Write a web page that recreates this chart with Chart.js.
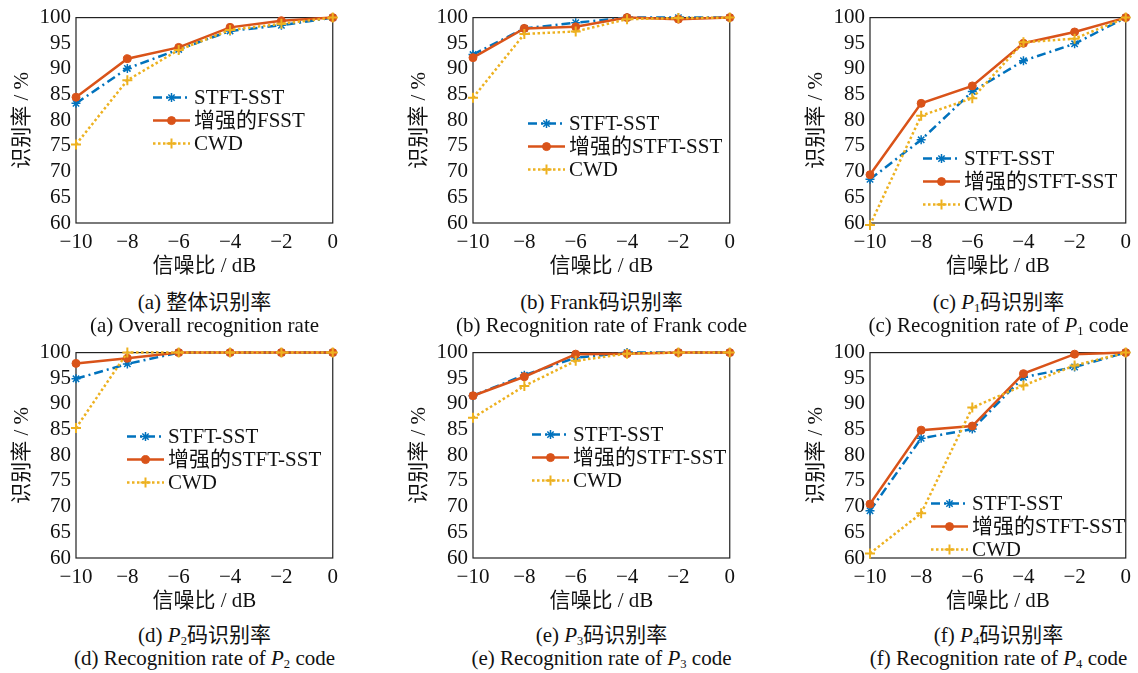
<!DOCTYPE html>
<html>
<head>
<meta charset="utf-8">
<script src="https://cdn.jsdelivr.net/npm/chart.js"></script>
<style>
  html, body { margin: 0; padding: 0; background: #fff; overflow: hidden; }
  #wrap { position: relative; width: 1138px; height: 673px; }
  .panel { position: absolute; }
  .cap {
    position: absolute; width: 380px; text-align: center;
    font: 21px "Liberation Serif", "Noto Sans CJK SC", serif;
    line-height: 24px; color: #111; white-space: nowrap;
  }
  .cap sub { font-size: 0.6em; vertical-align: -0.25em; line-height: 0; }
</style>
</head>
<body>
<div id="wrap"></div>
<script>
// x values (SNR, dB)
const snr = [-10, -8, -6, -4, -2, 0];

// (a) overall
const aStft = [83.3, 90.1, 93.8, 97.4, 98.5, 100];
const aEnh  = [84.5, 92.0, 94.2, 98.1, 99.4, 100];
const aCwd  = [75.3, 87.8, 93.7, 97.6, 98.8, 100];
// (b) Frank
const bStft = [92.8, 97.9, 99.0, 100, 100, 100];
const bEnh  = [92.2, 97.9, 98.2, 100, 99.7, 100];
const bCwd  = [84.4, 96.8, 97.3, 99.7, 99.9, 100];
// (c) P1
const cStft = [68.5, 76.2, 85.6, 91.6, 94.9, 100];
const cEnh  = [69.4, 83.3, 86.7, 95.0, 97.2, 100];
const cCwd  = [59.6, 80.9, 84.3, 95.2, 95.9, 100];
// (d) P2
const dStft = [94.9, 97.8, 100, 100, 100, 100];
const dEnh  = [97.9, 98.9, 100, 100, 100, 100];
const dCwd  = [85.3, 100, 100, 100, 100, 100];
// (e) P3
const eStft = [91.6, 95.6, 99.0, 100, 100, 100];
const eEnh  = [91.6, 95.3, 99.7, 99.8, 100, 100];
const eCwd  = [87.3, 93.5, 98.4, 99.8, 100, 100];
// (f) P4
const fStft = [69.2, 83.3, 85.1, 95.2, 97.2, 100];
const fEnh  = [70.5, 84.9, 85.7, 95.9, 99.7, 100];
const fCwd  = [60.9, 68.7, 89.3, 93.6, 97.5, 100];

const FONT = '"Liberation Serif", "Noto Sans CJK SC", serif';
const BLUE = "#0072BD", RED = "#D95319", YELLOW = "#EDB120";

Chart.defaults.color = "#111";
Chart.defaults.font.family = FONT;

// legend drawn inside the plot box, plus the box outline
const insideLegend = {
    id: "insideLegend",
    beforeDatasetsDraw(chart) {
        const { ctx, chartArea: a } = chart;
        ctx.save();
        ctx.strokeStyle = "#222";
        ctx.lineWidth = 1.2;
        ctx.strokeRect(a.left, a.top, a.right - a.left, a.bottom - a.top);
        ctx.restore();
    },
    afterDatasetsDraw(chart, args, opts) {
        const { ctx, chartArea: a } = chart;
        ctx.save();
        ctx.font = "21px " + FONT;
        ctx.textBaseline = "middle";
        chart.data.datasets.forEach((ds, i) => {
            const y = a.top + opts.y + i * 23;
            const x0 = a.left + opts.x;
            const x1 = x0 + 37;
            ctx.strokeStyle = ds.borderColor;
            ctx.lineWidth = ds.borderWidth;
            ctx.setLineDash(ds.borderDash || []);
            ctx.beginPath();
            ctx.moveTo(x0, y);
            ctx.lineTo(x1, y);
            ctx.stroke();
            ctx.setLineDash([]);
            ctx.fillStyle = ds.backgroundColor;
            ctx.lineWidth = ds.pointBorderWidth;
            Chart.helpers.drawPoint(ctx, { pointStyle: ds.pointStyle, radius: ds.pointRadius, borderWidth: ds.pointBorderWidth, rotation: 0 }, (x0 + x1) / 2, y);
            ctx.fillStyle = "#111";
            ctx.fillText(ds.label, x1 + 4, y + 1);
        });
        ctx.restore();
    },
};

function pts(vals) {
    return snr.map((x, i) => ({ x: x, y: vals[i] }));
}

function makePanel(p) {
    const W = 76 + 257 + p.padRight;
    const H = 280;
    const div = document.createElement("div");
    div.className = "panel";
    div.style.left = (p.left - 76) + "px";
    div.style.top = (p.top - 16) + "px";
    div.style.width = W + "px";
    div.style.height = H + "px";
    const canvas = document.createElement("canvas");
    canvas.width = W;
    canvas.height = H;
    div.appendChild(canvas);
    document.getElementById("wrap").appendChild(div);

    new Chart(canvas.getContext("2d"), {
        type: "line",
        data: {
            datasets: [
                {
                    label: "STFT-SST",
                    data: pts(p.stft),
                    borderColor: BLUE,
                    backgroundColor: BLUE,
                    borderWidth: 2.5,
                    borderDash: [9, 4, 2, 4],
                    pointStyle: "star",
                    pointRadius: 4.5,
                    pointBorderWidth: 1.5,
                    clip: 7,
                    order: 3,
                },
                {
                    label: p.enhLabel,
                    data: pts(p.enh),
                    borderColor: RED,
                    backgroundColor: RED,
                    borderWidth: 2.5,
                    pointStyle: "circle",
                    pointRadius: 4,
                    pointBorderWidth: 1,
                    clip: 7,
                    order: 2,
                },
                {
                    label: "CWD",
                    data: pts(p.cwd),
                    borderColor: YELLOW,
                    backgroundColor: YELLOW,
                    borderWidth: 2.5,
                    borderDash: [2.5, 2.5],
                    pointStyle: "cross",
                    pointRadius: 5,
                    pointBorderWidth: 2,
                    clip: 7,
                    order: 1,
                },
            ],
        },
        options: {
            responsive: false,
            animation: false,
            layout: { padding: { top: 16, right: p.padRight, left: 0, bottom: 0 } },
            plugins: {
                legend: { display: false },
                tooltip: { enabled: false },
                insideLegend: { x: p.legX, y: p.legY },
            },
            scales: {
                x: {
                    type: "linear",
                    min: -10,
                    max: 0,
                    grid: { display: false, drawTicks: false },
                    border: { display: false },
                    ticks: {
                        stepSize: 2,
                        padding: 7,
                        autoSkip: false,
                        maxRotation: 0,
                        font: { size: 21 },
                        callback: (v) => String(v).replace("-", "\u2212"),
                    },
                    title: { display: true, text: "信噪比 / dB", font: { size: 21 }, padding: { bottom: 1 } },
                    afterFit: (s) => { s.height = 57; },
                },
                y: {
                    min: 60,
                    max: 100,
                    grid: { display: false, drawTicks: false },
                    border: { display: false },
                    ticks: { stepSize: 5, padding: 5, autoSkip: false, font: { size: 21 } },
                    title: { display: true, text: "识别率 / %", font: { size: 21 }, padding: { top: 10 } },
                    afterFit: (s) => { s.width = 76; },
                },
            },
        },
        plugins: [insideLegend],
    });
}

const panels = [
    { left: 76, top: 16, padRight: 12, stft: aStft, enh: aEnh, cwd: aCwd, enhLabel: "增强的FSST", legX: 77, legY: 80 },
    { left: 473, top: 16, padRight: 12, stft: bStft, enh: bEnh, cwd: bCwd, enhLabel: "增强的STFT-SST", legX: 55, legY: 106 },
    { left: 870, top: 16, padRight: 11, stft: cStft, enh: cEnh, cwd: cCwd, enhLabel: "增强的STFT-SST", legX: 53, legY: 141 },
    { left: 76, top: 351, padRight: 12, stft: dStft, enh: dEnh, cwd: dCwd, enhLabel: "增强的STFT-SST", legX: 51, legY: 84 },
    { left: 473, top: 351, padRight: 12, stft: eStft, enh: eEnh, cwd: eCwd, enhLabel: "增强的STFT-SST", legX: 59, legY: 82 },
    { left: 870, top: 351, padRight: 11, stft: fStft, enh: fEnh, cwd: fCwd, enhLabel: "增强的STFT-SST", legX: 61, legY: 151 },
];
panels.forEach(makePanel);

// captions below each panel
const captions = [
    ["(a) 整体识别率", "(a) Overall recognition rate"],
    ["(b) Frank码识别率", "(b) Recognition rate of Frank code"],
    ["(c) <i>P</i><sub>1</sub>码识别率", "(c) Recognition rate of <i>P</i><sub>1</sub> code"],
    ["(d) <i>P</i><sub>2</sub>码识别率", "(d) Recognition rate of <i>P</i><sub>2</sub> code"],
    ["(e) <i>P</i><sub>3</sub>码识别率", "(e) Recognition rate of <i>P</i><sub>3</sub> code"],
    ["(f) <i>P</i><sub>4</sub>码识别率", "(f) Recognition rate of <i>P</i><sub>4</sub> code"],
];
captions.forEach((c, i) => {
    const p = panels[i];
    const cx = p.left + 257 / 2;
    const base = i < 3 ? 290 : 623;
    c.forEach((txt, j) => {
        const el = document.createElement("div");
        el.className = "cap";
        el.innerHTML = txt;
        el.style.left = (cx - 190) + "px";
        el.style.top = (base + j * 23) + "px";
        document.getElementById("wrap").appendChild(el);
    });
});
</script>
</body>
</html>
